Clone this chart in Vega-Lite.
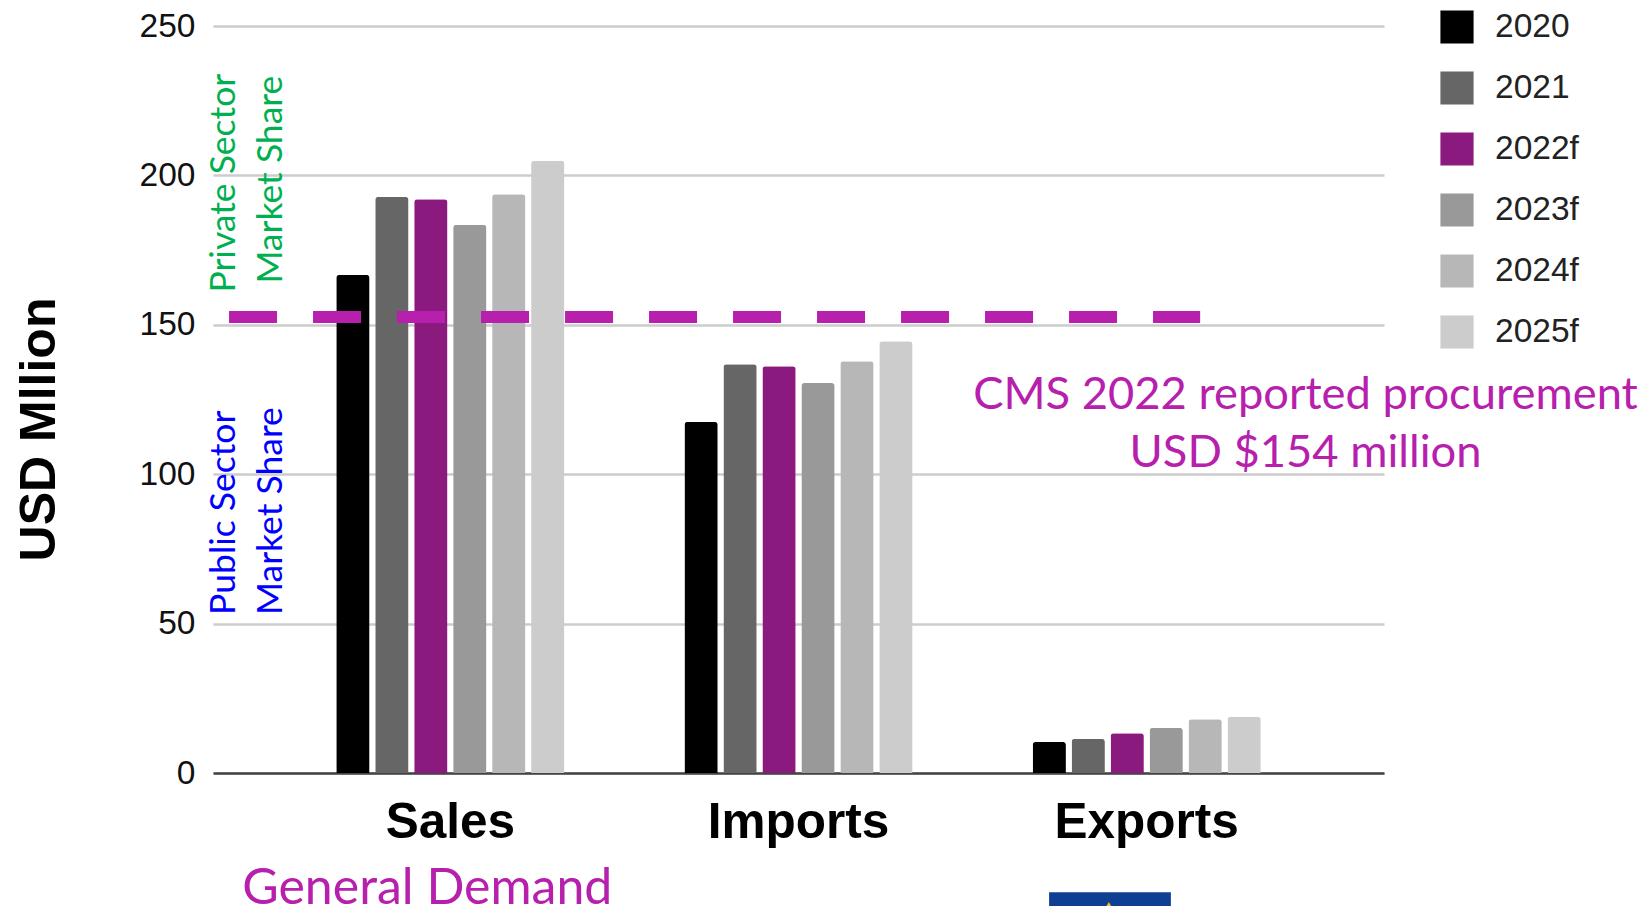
{
  "$schema": "https://vega.github.io/schema/vega-lite/v6.json",
  "autosize": {"type": "none"},
  "padding": {"left": 213, "top": 26, "right": 261, "bottom": 133},
  "width": 1171,
  "height": 747,
  "background": "white",
  "config": {"view": {"stroke": null}},
  "datasets": {
    "bars": [
      {"group": "Sales", "year": "2020", "usd": 166.7},
      {"group": "Sales", "year": "2021", "usd": 192.8},
      {"group": "Sales", "year": "2022f", "usd": 192},
      {"group": "Sales", "year": "2023f", "usd": 183.5},
      {"group": "Sales", "year": "2024f", "usd": 193.7},
      {"group": "Sales", "year": "2025f", "usd": 204.9},
      {"group": "Imports", "year": "2020", "usd": 117.5},
      {"group": "Imports", "year": "2021", "usd": 136.8},
      {"group": "Imports", "year": "2022f", "usd": 136.1},
      {"group": "Imports", "year": "2023f", "usd": 130.5},
      {"group": "Imports", "year": "2024f", "usd": 137.8},
      {"group": "Imports", "year": "2025f", "usd": 144.5},
      {"group": "Exports", "year": "2020", "usd": 10.4},
      {"group": "Exports", "year": "2021", "usd": 11.4},
      {"group": "Exports", "year": "2022f", "usd": 13.3},
      {"group": "Exports", "year": "2023f", "usd": 15.1},
      {"group": "Exports", "year": "2024f", "usd": 18},
      {"group": "Exports", "year": "2025f", "usd": 18.8}
    ],
    "reference": [{"from": 1.37, "to": 84.3, "usd": 152.6}],
    "demandNote": [{"pos": 18.3, "usd": -43.8, "label": "General Demand"}],
    "purpleNotes": [
      {"pos": 93.3, "usd": 121.7, "label": "CMS 2022 reported procurement"},
      {"pos": 93.3, "usd": 102.4, "label": "USD $154 million"}
    ],
    "sideNotes": [
      {"pos": 1.9, "usd": 160.8, "label": "Private Sector", "sector": "Private"},
      {"pos": 5.86, "usd": 163.8, "label": "Market Share", "sector": "Private"},
      {"pos": 1.9, "usd": 52.9, "label": "Public Sector", "sector": "Public"},
      {"pos": 5.86, "usd": 52.9, "label": "Market Share", "sector": "Public"}
    ],
    "flag": [{"from": 71.4, "to": 81.8, "top": -39.9, "bottom": -50}],
    "flagStar": [{"pos": 76.5, "usd": -44.2}]
  },
  "layer": [
    {
      "data": {"name": "bars"},
      "mark": {"type": "bar", "cornerRadiusTopLeft": 3, "cornerRadiusTopRight": 3},
      "encoding": {
        "x": {
          "field": "group",
          "type": "nominal",
          "sort": ["Sales", "Imports", "Exports"],
          "scale": {"paddingInner": 0.3285, "paddingOuter": 0.3458},
          "axis": {
            "title": null,
            "ticks": false,
            "labelAngle": 0,
            "labelFont": "Liberation Sans",
            "labelFontWeight": "bold",
            "labelFontSize": 49.5,
            "labelLimit": 500,
            "labelColor": "#000000",
            "labelPadding": 25,
            "domainColor": "#444444",
            "domainWidth": 2.5,
            "grid": false
          }
        },
        "xOffset": {
          "field": "year",
          "type": "nominal",
          "sort": ["2020", "2021", "2022f", "2023f", "2024f", "2025f"],
          "scale": {"paddingInner": 0.146, "paddingOuter": 0.073}
        },
        "y": {
          "field": "usd",
          "type": "quantitative",
          "scale": {"domain": [0, 250], "nice": false},
          "axis": {
            "title": "USD Mllion",
            "titleFont": "Liberation Sans",
            "titleFontWeight": "bold",
            "titleFontSize": 50,
            "titleColor": "#000000",
            "titleX": -149,
            "titleY": 403,
            "values": [0, 50, 100, 150, 200, 250],
            "ticks": false,
            "domain": false,
            "labelFont": "Liberation Sans",
            "labelFontSize": 33.5,
            "labelColor": "#111111",
            "labelPadding": 18,
            "gridColor": "#CCCCCC",
            "gridWidth": 2.5
          }
        },
        "color": {
          "field": "year",
          "type": "nominal",
          "sort": ["2020", "2021", "2022f", "2023f", "2024f", "2025f"],
          "scale": {
            "domain": ["2020", "2021", "2022f", "2023f", "2024f", "2025f"],
            "range": ["#000000", "#666666", "#8B1A7F", "#999999", "#B7B7B7", "#CCCCCC"]
          },
          "legend": {
            "orient": "none",
            "legendX": 1227,
            "legendY": -16,
            "title": null,
            "symbolType": "square",
            "symbolSize": 1100,
            "symbolStrokeWidth": 0,
            "labelFont": "Liberation Sans",
            "labelFontSize": 33.5,
            "labelColor": "#222222",
            "labelOffset": 21,
            "rowPadding": 27,
            "padding": 0
          }
        }
      }
    },
    {
      "data": {"name": "reference"},
      "mark": {"type": "rule", "color": "#B620AD", "strokeWidth": 12, "strokeDash": [48, 36]},
      "encoding": {
        "x": {"field": "from", "type": "quantitative", "scale": {"domain": [0, 100], "nice": false}, "axis": null},
        "x2": {"field": "to"},
        "y": {"field": "usd", "type": "quantitative"}
      }
    },
    {
      "data": {"name": "purpleNotes"},
      "mark": {"type": "text", "color": "#B620AD", "font": "Lato", "fontSize": 45.3, "align": "center", "baseline": "alphabetic"},
      "encoding": {
        "x": {"field": "pos", "type": "quantitative", "scale": {"domain": [0, 100], "nice": false}, "axis": null},
        "y": {"field": "usd", "type": "quantitative"},
        "text": {"field": "label"}
      }
    },
    {
      "data": {"name": "demandNote"},
      "mark": {"type": "text", "color": "#B620AD", "font": "Lato", "fontSize": 50, "align": "center", "baseline": "alphabetic"},
      "encoding": {
        "x": {"field": "pos", "type": "quantitative", "scale": {"domain": [0, 100], "nice": false}, "axis": null},
        "y": {"field": "usd", "type": "quantitative"},
        "text": {"field": "label"}
      }
    },
    {
      "data": {"name": "sideNotes"},
      "mark": {"type": "text", "font": "Lato", "fontSize": 35.5, "angle": 270, "align": "left", "baseline": "alphabetic"},
      "encoding": {
        "x": {"field": "pos", "type": "quantitative", "scale": {"domain": [0, 100], "nice": false}, "axis": null},
        "y": {"field": "usd", "type": "quantitative"},
        "text": {"field": "label"},
        "stroke": {"value": null},
        "fill": {
          "field": "sector",
          "type": "nominal",
          "scale": {"domain": ["Private", "Public"], "range": ["#00B050", "#0000FF"]},
          "legend": null
        }
      }
    },
    {
      "data": {"name": "flag"},
      "mark": {"type": "rect", "color": "#0F3F92"},
      "encoding": {
        "x": {"field": "from", "type": "quantitative", "scale": {"domain": [0, 100], "nice": false}, "axis": null},
        "x2": {"field": "to"},
        "y": {"field": "top", "type": "quantitative"},
        "y2": {"field": "bottom"}
      }
    },
    {
      "data": {"name": "flagStar"},
      "mark": {"type": "point", "shape": "triangle-up", "filled": true, "color": "#F2C81E", "size": 50, "opacity": 1},
      "encoding": {
        "x": {"field": "pos", "type": "quantitative", "scale": {"domain": [0, 100], "nice": false}, "axis": null},
        "y": {"field": "usd", "type": "quantitative"}
      }
    }
  ],
  "resolve": {"scale": {"x": "independent", "fill": "independent"}}
}
